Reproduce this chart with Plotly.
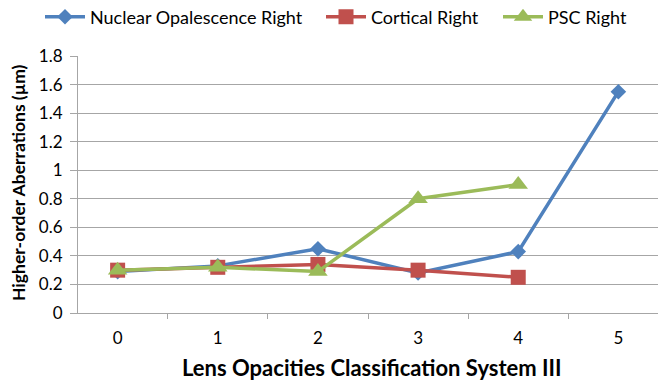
import plotly.graph_objects as go

categories = ["0", "1", "2", "3", "4", "5"]
nuclear = [0.29, 0.33, 0.45, 0.28, 0.43, 1.55]
cortical = [0.30, 0.32, 0.34, 0.30, 0.25, None]
psc = [0.30, 0.32, 0.29, 0.80, 0.90, None]
y_ticks = [0, 0.2, 0.4, 0.6, 0.8, 1, 1.2, 1.4, 1.6, 1.8]
y_tick_labels = ["0", "0.2", "0.4", "0.6", "0.8", "1", "1.2", "1.4", "1.6", "1.8"]

FONT = "Lato"
W, H = 658, 382
GRID = "#A6A6A6"

fig = go.Figure()
fig.add_trace(go.Scatter(x=categories, y=nuclear, name="Nuclear Opalescence Right",
                         mode="lines+markers", legend="legend",
                         line=dict(color="#4F81BD", width=3.5),
                         marker=dict(symbol="diamond", size=12, color="#4F81BD")))
fig.add_trace(go.Scatter(x=categories, y=cortical, name="Cortical Right",
                         mode="lines+markers", legend="legend2",
                         line=dict(color="#C0504D", width=3.5),
                         marker=dict(symbol="square", size=15, color="#C0504D")))
fig.add_trace(go.Scatter(x=categories, y=psc, name="PSC Right",
                         mode="lines+markers", legend="legend3",
                         line=dict(color="#9BBB59", width=3.5),
                         marker=dict(symbol="triangle-up", size=17, color="#9BBB59")))

def leg(xpx):
    return dict(orientation="h", x=xpx / W, xanchor="left", xref="container",
                y=1 - 17 / H, yanchor="middle", yref="container",
                itemwidth=40,
                font=dict(size=18, family=FONT, color="#000000"),
                bgcolor="rgba(0,0,0,0)", borderwidth=0)

fig.update_layout(
    width=W, height=H,
    margin=dict(l=78, r=0, t=56, b=69),
    paper_bgcolor="white", plot_bgcolor="white",
    font=dict(family=FONT, size=17, color="#000000"),
    showlegend=True,
    legend=leg(40),
    legend2=leg(321),
    legend3=leg(498),
    xaxis=dict(
        type="category",
        showgrid=False,
        showline=True, linecolor=GRID, linewidth=1,
        ticks="outside", tickson="boundaries", ticklen=5, tickcolor=GRID,
        tickfont=dict(size=17),
        ticklabelstandoff=10,
        automargin=False,
    ),
    yaxis=dict(
        range=[0, 1.8],
        tickvals=y_ticks, ticktext=y_tick_labels,
        showgrid=True, gridcolor=GRID, gridwidth=1,
        showline=True, linecolor=GRID, linewidth=1,
        ticks="outside", ticklen=7, tickcolor=GRID,
        tickfont=dict(size=17),
        ticklabelstandoff=4,
        zeroline=False,
        automargin=False,
    ),
    annotations=[
        dict(text="<b>Lens Opacities Classification System III</b>",
             xref="paper", yref="paper", x=(372 - 78) / (W - 78), y=-(367 - 313) / (313 - 56),
             xanchor="center", yanchor="middle", showarrow=False,
             font=dict(size=22, family=FONT, color="#000000")),
        dict(text="<b>Higher-order Aberrations (µm)</b>",
             xref="paper", yref="paper", x=-(78 - 18) / (W - 78), y=(313 - 183) / (313 - 56),
             xanchor="center", yanchor="middle", showarrow=False, textangle=-90,
             font=dict(size=17.5, family=FONT, color="#000000")),
    ],
)

fig.write_html("out.html")
